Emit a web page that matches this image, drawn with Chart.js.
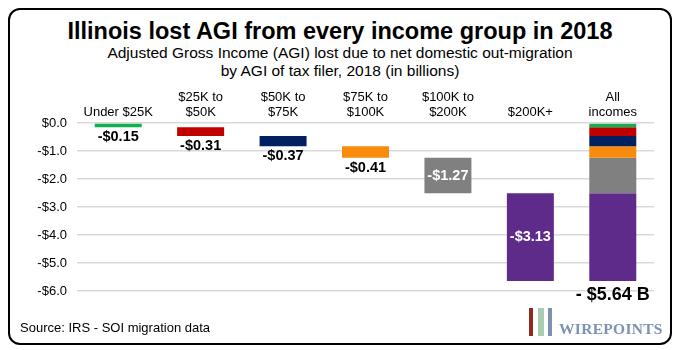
<!DOCTYPE html>
<html>
<head>
<meta charset="utf-8">
<script src="https://cdn.jsdelivr.net/npm/chart.js@4"></script>
<style>
  body { margin: 0; background: #fff; font-family: "Liberation Sans", Arial, sans-serif; }
  #wrap { position: relative; width: 680px; height: 350px; overflow: hidden; }
  #frame { position: absolute; left: 8px; top: 8px; width: 660px; height: 333px;
           border: 2px solid #000; border-radius: 12px; }
  #chart { position: absolute; left: 0; top: 0; }
  .title { position: absolute; left: 0; width: 680px; text-align: center; color: #000; }
  #t1 { top: 18px; font-size: 23.5px; font-weight: bold; }
  #t2 { top: 44px; font-size: 15.5px; line-height: 18px; }
  #source { position: absolute; left: 20px; top: 320px; font-size: 13px; }
  #logo { position: absolute; left: 527px; top: 307px; height: 30px; width: 140px; }
  #logo .s { position: absolute; top: 1px; height: 28px; }
  #logo span { position: absolute; left: 32px; top: 13px; font-family: "Liberation Serif", serif;
               font-weight: bold; font-size: 15.5px; color: #7d92b3; letter-spacing: 0.3px; }
</style>
</head>
<body>
<div id="wrap">
  <div id="frame"></div>
  <div class="title" id="t1">Illinois lost AGI from every income group in 2018</div>
  <div class="title" id="t2">Adjusted Gross Income (AGI) lost due to net domestic out-migration<br>by AGI of tax filer, 2018 (in billions)</div>
  <canvas id="chart" width="680" height="350"></canvas>
  <div id="source">Source: IRS - SOI migration data</div>
  <div id="logo">
    <div class="s" style="left:2px;width:4px;background:#8e2b1b;"></div>
    <div class="s" style="left:11px;width:6px;background:#a9cdb0;"></div>
    <div class="s" style="left:21px;width:4px;background:#7d92b3;"></div>
    <span>WIREPOINTS</span>
  </div>
</div>
<script>
// income groups (top axis labels)
var categories = [
    ["", "Under $25K"],
    ["$25K to", "$50K"],
    ["$50K to", "$75K"],
    ["$75K to", "$100K"],
    ["$100K to", "$200K"],
    ["", "$200K+"],
    ["All", "incomes"]
];
// AGI lost per group, billions
var losses = [0.15, 0.31, 0.37, 0.41, 1.27, 3.13];
var barColors = ['#12b04e', '#c00000', '#002060', '#f88a0c', '#808080', '#5f2b8a'];
var yTicks = [0, -1, -2, -3, -4, -5, -6];

var fontFamily = '"Liberation Sans", Arial, sans-serif';

// build waterfall datasets: each group floats from running total, and is stacked again in "All incomes"
var datasets = [];
var running = 0;
for (var i = 0; i < losses.length; i++) {
    var start = -running;
    running += losses[i];
    var end = -running;
    var data = [];
    for (var j = 0; j < categories.length; j++) data.push(null);
    data[i] = [start, end];
    data[categories.length - 1] = [start, end];
    datasets.push({
        data: data,
        backgroundColor: barColors[i],
        grouped: false,
        barPercentage: 0.57,
        categoryPercentage: 1
    });
}
var total = running;

var labelPlugin = {
    id: 'valueLabels',
    afterDatasetsDraw: function (chart) {
        var ctx = chart.ctx;
        ctx.save();
        ctx.textAlign = 'center';
        ctx.textBaseline = 'middle';
        for (var i = 0; i < losses.length; i++) {
            var bar = chart.getDatasetMeta(i).data[i];
            var top = Math.min(bar.y, bar.base);
            var bottom = Math.max(bar.y, bar.base);
            var text = '-$' + losses[i].toFixed(2);
            ctx.font = 'bold 14.5px ' + fontFamily;
            if (bottom - top > 25) {
                ctx.fillStyle = '#fff';
                ctx.fillText(text, bar.x, (top + bottom) / 2);
            } else {
                ctx.fillStyle = '#000';
                ctx.fillText(text, bar.x, bottom + 10);
            }
        }
        var last = chart.getDatasetMeta(losses.length - 1).data[categories.length - 1];
        ctx.font = 'bold 18px ' + fontFamily;
        ctx.fillStyle = '#000';
        ctx.fillText('- $' + total.toFixed(2) + ' B', last.x, Math.max(last.y, last.base) + 14);
        ctx.restore();
    }
};

new Chart(document.getElementById('chart').getContext('2d'), {
    type: 'bar',
    data: { labels: categories, datasets: datasets },
    plugins: [labelPlugin],
    options: {
        responsive: false,
        animation: false,
        layout: { padding: { left: 10, right: 26, top: 80, bottom: 59 } },
        plugins: { legend: { display: false }, tooltip: { enabled: false } },
        scales: {
            x: {
                position: 'top',
                grid: { display: false, drawTicks: false },
                border: { display: false },
                ticks: {
                    color: '#000',
                    padding: 3,
                    maxRotation: 0,
                    autoSkip: false,
                    font: { family: fontFamily, size: 13, lineHeight: 1.15 }
                },
                afterFit: function (scale) { scale.height = 43; }
            },
            y: {
                min: -6,
                max: 0,
                afterBuildTicks: function (scale) {
                    scale.ticks = yTicks.map(function (v) { return { value: v }; });
                },
                grid: { color: '#d9d9d9', lineWidth: 1.5, drawTicks: false },
                border: { display: false },
                ticks: {
                    color: '#000',
                    padding: 10,
                    font: { family: fontFamily, size: 13 },
                    callback: function (v) {
                        return (v < 0 ? '-' : '') + '$' + Math.abs(v).toFixed(1);
                    }
                },
                afterFit: function (scale) { scale.width = 67; }
            }
        }
    }
});
</script>
</body>
</html>
